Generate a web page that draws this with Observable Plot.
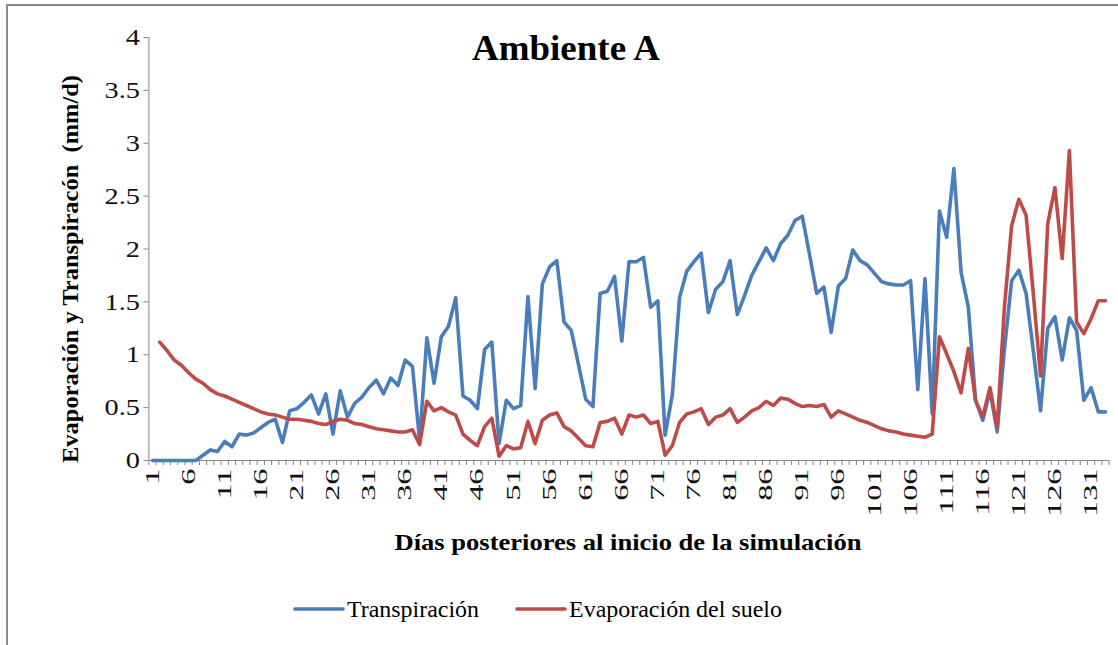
<!DOCTYPE html>
<html>
<head>
<meta charset="utf-8">
<script src="https://cdn.jsdelivr.net/npm/d3@7"></script>
<script src="https://cdn.jsdelivr.net/npm/@observablehq/plot@0.6"></script>
<style>
  html, body { margin: 0; padding: 0; background: #fff; }
  #chart svg { display: block; }
</style>
</head>
<body>
<div id="chart"></div>
<script>
// Categories: days after the start of the simulation
const days = Array.from({ length: 133 }, (_, i) => i + 1);

// Transpiración (mm/d)
const transpiracion = [
  0, 0, 0, 0, 0, 0, 0, 0.05, 0.10, 0.085,
  0.18, 0.13, 0.25, 0.24, 0.26, 0.31, 0.36, 0.39, 0.17, 0.47,
  0.49, 0.55, 0.62, 0.44, 0.63, 0.25, 0.66, 0.41, 0.54, 0.60,
  0.69, 0.76, 0.63, 0.78, 0.71, 0.95, 0.89, 0.19, 1.16, 0.73,
  1.17, 1.27, 1.54, 0.61, 0.57, 0.49, 1.05, 1.12, 0.16, 0.57,
  0.49, 0.52, 1.55, 0.68, 1.67, 1.83, 1.89, 1.31, 1.23, 0.91,
  0.58, 0.51, 1.58, 1.60, 1.74, 1.13, 1.88, 1.88, 1.92, 1.45,
  1.51, 0.24, 0.62, 1.54, 1.79, 1.88, 1.96, 1.40, 1.62, 1.69,
  1.89, 1.38, 1.56, 1.75, 1.88, 2.01, 1.89, 2.05, 2.13, 2.27,
  2.31, 1.95, 1.58, 1.64, 1.21, 1.65, 1.72, 1.99, 1.89, 1.85,
  1.77, 1.69, 1.67, 1.66, 1.66, 1.70, 0.67, 1.72, 0.44, 2.36,
  2.11, 2.76, 1.78, 1.45, 0.57, 0.38, 0.66, 0.27, 1.05, 1.70,
  1.80, 1.58, 1.04, 0.47, 1.25, 1.36, 0.95, 1.35, 1.23, 0.57,
  0.69, 0.46, 0.46
];

// Evaporación del suelo (mm/d) — no value on day 1
const evaporacion = [
  null, 1.12, 1.04, 0.95, 0.90, 0.83, 0.77, 0.73, 0.67, 0.63,
  0.61, 0.58, 0.55, 0.52, 0.49, 0.46, 0.44, 0.43, 0.41, 0.39,
  0.39, 0.38, 0.37, 0.35, 0.34, 0.37, 0.39, 0.38, 0.35, 0.34,
  0.32, 0.30, 0.29, 0.28, 0.27, 0.27, 0.29, 0.15, 0.56, 0.47,
  0.50, 0.46, 0.43, 0.25, 0.19, 0.14, 0.32, 0.40, 0.04, 0.14,
  0.11, 0.12, 0.37, 0.16, 0.38, 0.43, 0.45, 0.32, 0.28, 0.21,
  0.14, 0.13, 0.36, 0.37, 0.40, 0.25, 0.43, 0.41, 0.43, 0.35,
  0.37, 0.05, 0.14, 0.36, 0.44, 0.46, 0.49, 0.34, 0.41, 0.43,
  0.49, 0.36, 0.41, 0.47, 0.50, 0.56, 0.52, 0.59, 0.58, 0.54,
  0.51, 0.52, 0.51, 0.53, 0.41, 0.47, 0.44, 0.41, 0.38, 0.36,
  0.33, 0.30, 0.28, 0.27, 0.25, 0.24, 0.23, 0.22, 0.25, 1.17,
  1.01, 0.84, 0.64, 1.06, 0.57, 0.41, 0.69, 0.31, 1.45, 2.22,
  2.47, 2.32, 1.58, 0.80, 2.24, 2.58, 1.91, 2.93, 1.31, 1.20,
  1.34, 1.51, 1.51
];

// Tick labels
const yTicks = [0, 0.5, 1, 1.5, 2, 2.5, 3, 3.5, 4];
const xTickLabels = [1, 6, 11, 16, 21, 26, 31, 36, 41, 46, 51, 56, 61, 66, 71, 76, 81, 86, 91, 96, 101, 106, 111, 116, 121, 126, 131];

// Texts
const titleText = "Ambiente A";
const yTitle = "Evaporación y Transpiracón  (mm/d)";
const xTitle = "Días posteriores al inicio de la simulación";
const seriesNames = ["Transpiración", "Evaporación del suelo"];
const seriesColors = ["#4A7EBB", "#BE4B48"];

// Table built from the arrays
const rows = days.map((d, i) => ({ day: d, t: transpiracion[i], e: evaporacion[i] }));
const boundaries = [...days.map(d => d - 0.5), days[days.length - 1] + 0.5];

const W = 1118, H = 645;
const mL = 148.4, mR = 9.4, mT = 37, mB = 185;
const axisColor = "#868686";
const font = "'Liberation Serif', 'Times New Roman', serif";

const chart = Plot.plot({
  width: W,
  height: H,
  marginLeft: mL,
  marginRight: mR,
  marginTop: mT,
  marginBottom: mB,
  style: { fontFamily: font, background: "#fff", color: "#000", overflow: "visible" },
  x: { domain: [0.5, 133.5], axis: null, label: null },
  y: { domain: [0, 4], axis: null, label: null },
  marks: [
    // y axis
    Plot.axisY({ ticks: yTicks, tickSize: 5, tickPadding: 4, fontSize: 24, fontFamily: font, label: null, stroke: axisColor, fill: "#111", tickFormat: d => String(d) }),
    Plot.ruleX([0.5], { stroke: axisColor, strokeWidth: 1 }),
    // x axis: boundary ticks
    Plot.axisX({ ticks: boundaries, tickSize: 5, label: null, stroke: axisColor, tickFormat: () => "" }),
    // x axis labels
    Plot.axisX({ ticks: xTickLabels, tickSize: 5, tickPadding: 3, tickRotate: -90, fontSize: 19, fontFamily: font, label: null, stroke: "none", fill: "#111", tickFormat: d => String(d) }),
    Plot.ruleY([0], { stroke: axisColor, strokeWidth: 1 }),
    // series
    Plot.line(rows, { x: "day", y: "t", stroke: seriesColors[0], strokeWidth: 3.6, strokeLinejoin: "round", strokeLinecap: "round" }),
    Plot.line(rows, { x: "day", y: "e", stroke: seriesColors[1], strokeWidth: 3.6, strokeLinejoin: "round", strokeLinecap: "round" })
  ]
});

document.getElementById("chart").appendChild(chart);
const svg = d3.select(chart);
svg.attr("font-family", font);

function stretch(sel, f) {
  sel.each(function () {
    const L = this.getComputedTextLength();
    if (L > 0) {
      this.setAttribute("textLength", L * f);
      this.setAttribute("lengthAdjust", "spacingAndGlyphs");
    }
  });
}
function fitWidth(sel, w) {
  sel.attr("textLength", w).attr("lengthAdjust", "spacingAndGlyphs");
}

// axis tick labels: the reference glyphs are drawn wider along the text direction
svg.selectAll("g").filter(function () {
  const a = this.getAttribute("aria-label") || "";
  return a.startsWith("y-axis tick label");
}).selectAll("text").call(s => stretch(s, 1.18));
svg.selectAll("g").filter(function () {
  const a = this.getAttribute("aria-label") || "";
  return a.startsWith("x-axis tick label");
}).selectAll("text").call(s => stretch(s, 1.7));

// outer frame
svg.insert("rect", ":first-child")
  .attr("x", 7).attr("y", 5).attr("width", 1300).attr("height", 800)
  .attr("fill", "none").attr("stroke", "#8c8c8c").attr("stroke-width", 2);

// title
fitWidth(svg.append("text").text(titleText)
  .attr("x", 566).attr("y", 60).attr("text-anchor", "middle")
  .attr("font-size", 35).attr("font-weight", "bold").attr("fill", "#000"), 188);

// y title
fitWidth(svg.append("text").text(yTitle)
  .attr("transform", "translate(78,269) rotate(-90)")
  .attr("text-anchor", "middle").attr("font-size", 23).attr("font-weight", "bold")
  .attr("fill", "#000").style("white-space", "pre"), 388);

// x title
fitWidth(svg.append("text").text(xTitle)
  .attr("x", 628).attr("y", 550).attr("text-anchor", "middle")
  .attr("font-size", 24).attr("font-weight", "bold").attr("fill", "#000"), 467);

// legend
const legendX = [295, 517];
const legendW = [132, 213];
seriesNames.forEach((name, i) => {
  const g = svg.append("g");
  g.append("line").attr("x1", legendX[i]).attr("x2", legendX[i] + 48)
    .attr("y1", 609).attr("y2", 609).attr("stroke", seriesColors[i])
    .attr("stroke-width", 3.6).attr("stroke-linecap", "round");
  fitWidth(g.append("text").text(name).attr("x", legendX[i] + 52).attr("y", 617)
    .attr("text-anchor", "start").attr("font-size", 23).attr("fill", "#000"), legendW[i]);
});
</script>
</body>
</html>
